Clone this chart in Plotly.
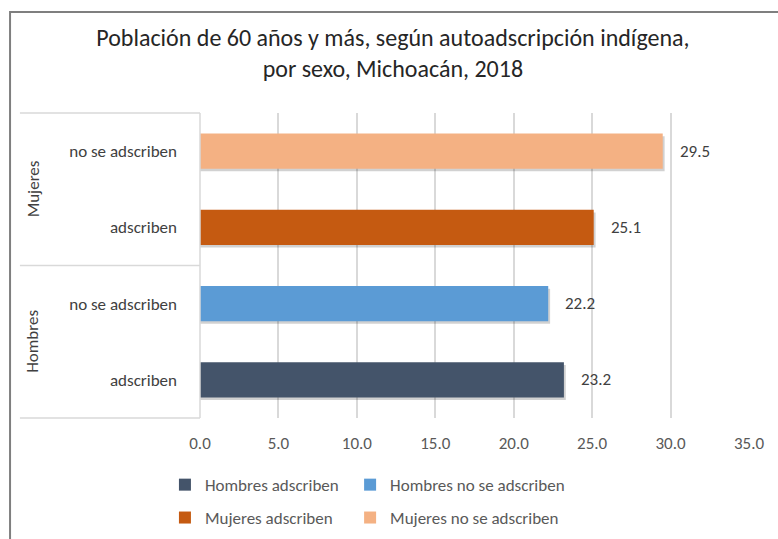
import plotly.graph_objects as go

# Data
groups = ["Hombres", "Hombres", "Mujeres", "Mujeres"]
subgroups = ["adscriben", "no se adscriben", "adscriben", "no se adscriben"]
series_names = ["Hombres adscriben", "Hombres no se adscriben",
                "Mujeres adscriben", "Mujeres no se adscriben"]
values = [23.2, 22.2, 25.1, 29.5]
colors = ["#44546A", "#5B9BD5", "#C55A11", "#F4B183"]
x_ticks = [0, 5, 10, 15, 20, 25, 30, 35]

FONT = "Carlito, Lato, sans-serif"
cat_ids = [f"{g}|{s}" for g, s in zip(groups, subgroups)]

fig = go.Figure()

BAR_W = 0.46
# soft drop shadow behind each bar
for cid, v in zip(cat_ids, values):
    fig.add_trace(go.Bar(
        y=[cid], x=[v + 0.12], orientation="h",
        width=BAR_W, offset=-BAR_W / 2 - 0.035,
        marker=dict(color="rgba(0,0,0,0.18)", line=dict(width=0)),
        showlegend=False, hoverinfo="skip",
    ))

# one legend box per entry, laid out as a 2 x 2 grid under the axis
legend_names = ["legend", "legend2", "legend3", "legend4"]
legend_x = [0.212, 0.450, 0.212, 0.450]
legend_y = [0.100, 0.100, 0.039, 0.039]

for i, (cid, name, v, c) in enumerate(zip(cat_ids, series_names, values, colors)):
    fig.add_trace(go.Bar(
        y=[cid], x=[v], orientation="h", name=name,
        width=BAR_W, offset=-BAR_W / 2,
        marker=dict(color=c, line=dict(width=0)),
        legend=legend_names[i],
    ))
    fig.add_annotation(
        x=v, y=cid, text=f"{v:.1f}", showarrow=False,
        xanchor="left", xshift=15,
        font=dict(family=FONT, size=17, color="#404040"),
    )

# group labels on the category side
for g in ["Hombres", "Mujeres"]:
    members = [i for i, gg in enumerate(groups) if gg == g]
    fig.add_annotation(
        x=-0.304, xref="paper", xanchor="center",
        y=sum(members) / len(members), yref="y", yanchor="middle",
        text=g, textangle=-90, showarrow=False,
        font=dict(family=FONT, size=17, color="#404040"),
    )

line_col = "#D9D9D9"
# category table rules
for yy in [0, 1]:
    fig.add_shape(type="line", xref="paper", yref="paper",
                  x0=-0.328, x1=0, y0=yy, y1=yy,
                  line=dict(color=line_col, width=1.5))
fig.add_shape(type="line", xref="paper", yref="y",
              x0=-0.328, x1=0, y0=1.5, y1=1.5,
              line=dict(color=line_col, width=1.5))
fig.add_shape(type="line", xref="paper", yref="paper",
              x0=0, x1=0, y0=0, y1=1,
              line=dict(color=line_col, width=1.5))
# chart frame
fig.add_shape(type="rect", xref="paper", yref="paper",
              x0=-0.346, x1=1.2, y0=-0.5, y1=1.331,
              line=dict(color="#7F7F7F", width=2))

legend_font = dict(family=FONT, size=17, color="#595959")
legend_layout = {
    ln: dict(
        orientation="h", xref="container", yref="container",
        x=lx, xanchor="left", y=ly, yanchor="middle",
        font=legend_font, bgcolor="rgba(0,0,0,0)",
    )
    for ln, lx, ly in zip(legend_names, legend_x, legend_y)
}

fig.update_layout(
    width=778, height=539,
    margin=dict(l=200, r=29, t=113, b=121),
    paper_bgcolor="white", plot_bgcolor="white",
    barmode="overlay",
    font=dict(family=FONT, color="#404040"),
    title=dict(
        text="Población de 60 años y más, según autoadscripción indígena,<br>por sexo, Michoacán, 2018",
        x=0.505, xanchor="center", y=0.915, yanchor="top",
        font=dict(family=FONT, size=24, color="#262626"),
    ),
    xaxis=dict(
        range=[0, 35], tickvals=x_ticks, ticktext=[f"{t:.1f}" for t in x_ticks],
        showgrid=True, gridcolor=line_col, gridwidth=1.5,
        zeroline=False, showline=False, ticks="",
        ticklabelstandoff=13,
        tickfont=dict(family=FONT, size=17, color="#595959"),
        fixedrange=True,
    ),
    yaxis=dict(
        type="category", categoryorder="array", categoryarray=cat_ids,
        tickvals=cat_ids, ticktext=subgroups,
        showgrid=False, zeroline=False, showline=False, ticks="",
        ticklabelstandoff=22,
        tickfont=dict(family=FONT, size=17, color="#404040"),
        range=[-0.5, 3.5],
    ),
    **legend_layout,
)

fig.write_html("out.html")
